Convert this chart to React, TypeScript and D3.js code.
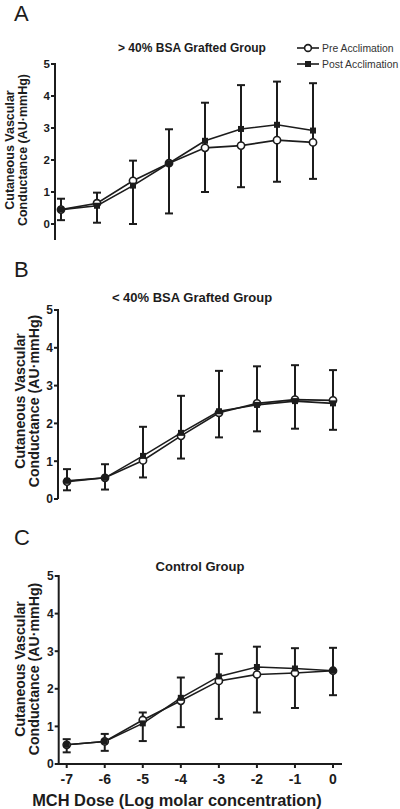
import React from "react";
import * as d3 from "d3";

// ---- data ----
const doses = [-7, -6, -5, -4, -3, -2, -1, 0];
const yTicks = [0, 1, 2, 3, 4, 5];
const seriesNames = ["Pre Acclimation", "Post Acclimation"];

const panelLetters = ["A", "B", "C"];
const panelTitles = ["> 40% BSA Grafted Group", "< 40% BSA Grafted Group", "Control Group"];

// Panel A (> 40% BSA)
const aPre = [0.45, 0.65, 1.35, 1.9, 2.38, 2.45, 2.62, 2.55];
const aPost = [0.45, 0.57, 1.2, 1.9, 2.6, 2.97, 3.1, 2.92];
const aHigh = [0.79, 0.98, 1.98, 2.96, 3.79, 4.34, 4.45, 4.4];
const aLow = [0.12, 0.04, 0.0, 0.33, 1.0, 1.15, 1.32, 1.41];

// Panel B (< 40% BSA)
const bPre = [0.46, 0.56, 1.02, 1.67, 2.28, 2.53, 2.63, 2.61];
const bPost = [0.48, 0.56, 1.14, 1.75, 2.32, 2.49, 2.59, 2.53];
const bHigh = [0.79, 0.92, 1.91, 2.73, 3.39, 3.51, 3.54, 3.41];
const bLow = [0.23, 0.25, 0.57, 1.07, 1.63, 1.79, 1.86, 1.83];

// Panel C (Control)
const cPre = [0.51, 0.6, 1.17, 1.68, 2.21, 2.38, 2.42, 2.48];
const cPost = [0.51, 0.6, 1.08, 1.76, 2.33, 2.58, 2.54, 2.48];
const cHigh = [0.66, 0.8, 1.37, 2.3, 2.93, 3.12, 3.08, 3.09];
const cLow = [0.31, 0.35, 0.61, 0.98, 1.2, 1.37, 1.49, 1.83];

const yTitle1 = "Cutaneous Vascular";
const yTitle2 = "Conductance (AU\u00B7mmHg)";
const xTitle = "MCH Dose (Log molar concentration)";

// ---- layout ----
const FONT = "'Liberation Sans', Arial, Helvetica, sans-serif";
const INK = "#1c1c1c";

const layouts = [
  { x0: 61, x1: 313, yTop: 64, yBot: 224, axisX: 55, axisEnd: 240, titleX: 192, titleY: 52, titleSize: 12,
    yt1X: 14, yt2X: 27, ytY: 150, ytSize: 12.5, letterY: 21, tickSize: 11.5, xAxis: false, legend: true },
  { x0: 67, x1: 333, yTop: 310, yBot: 499, axisX: 58, axisEnd: 499, titleX: 192, titleY: 302, titleSize: 13,
    yt1X: 25, yt2X: 39, ytY: 401, ytSize: 14.2, letterY: 277, tickSize: 12, xAxis: false, legend: false },
  { x0: 66.7, x1: 333, yTop: 576, yBot: 764, axisX: 58.7, axisEnd: 764, titleX: 200, titleY: 571, titleSize: 13,
    yt1X: 25, yt2X: 39, ytY: 669, ytSize: 14.2, letterY: 545, tickSize: 12, xAxis: true, legend: false },
];

const panelsData = [
  { pre: aPre, post: aPost, high: aHigh, low: aLow },
  { pre: bPre, post: bPost, high: bHigh, low: bLow },
  { pre: cPre, post: cPost, high: cHigh, low: cLow },
];

function Panel({ idx }: { idx: number }) {
  const L = layouts[idx];
  const D = panelsData[idx];
  const x = d3.scaleLinear().domain([-7, 0]).range([L.x0, L.x1]);
  const y = d3.scaleLinear().domain([0, 5]).range([L.yBot, L.yTop]);
  const line = d3
    .line<number>()
    .x((_, i) => x(doses[i]))
    .y((v) => y(v));
  const cap = 4;
  return (
    <g>
      <text x={14} y={L.letterY} fontSize={22} fontFamily={FONT} fill={INK}>
        {panelLetters[idx]}
      </text>
      <text x={L.titleX} y={L.titleY} fontSize={L.titleSize} fontWeight="bold" textAnchor="middle" fontFamily={FONT} fill={INK}>
        {panelTitles[idx]}
      </text>
      {/* y title */}
      <g transform={`translate(${L.yt1X},${L.ytY}) rotate(-90)`}>
        <text textAnchor="middle" fontSize={L.ytSize} fontWeight="bold" fontFamily={FONT} fill={INK}>
          {yTitle1}
        </text>
      </g>
      <g transform={`translate(${L.yt2X},${L.ytY}) rotate(-90)`}>
        <text textAnchor="middle" fontSize={L.ytSize} fontWeight="bold" fontFamily={FONT} fill={INK}>
          {yTitle2}
        </text>
      </g>
      {/* y axis */}
      <line x1={L.axisX} x2={L.axisX} y1={y(5) - 1} y2={L.axisEnd} stroke={INK} strokeWidth={2} />
      {yTicks.map((t) => (
        <g key={t}>
          <line x1={L.axisX - 4} x2={L.axisX} y1={y(t)} y2={y(t)} stroke={INK} strokeWidth={2} />
          <text x={L.axisX - 5} y={y(t) + L.tickSize * 0.36} textAnchor="end" fontSize={L.tickSize} fontWeight="bold" fontFamily={FONT} fill={INK}>
            {t}
          </text>
        </g>
      ))}
      {/* x axis */}
      {L.xAxis && (
        <g>
          <line x1={L.axisX - 1} x2={342} y1={L.yBot} y2={L.yBot} stroke={INK} strokeWidth={2} />
          {doses.map((d) => (
            <g key={d}>
              <line x1={x(d)} x2={x(d)} y1={L.yBot} y2={L.yBot + 4} stroke={INK} strokeWidth={2} />
              <text x={x(d)} y={L.yBot + 20} textAnchor="middle" fontSize={14} fontWeight="bold" fontFamily={FONT} fill={INK}>
                {d}
              </text>
            </g>
          ))}
          <text x={177} y={L.yBot + 42} textAnchor="middle" fontSize={16.4} fontWeight="bold" fontFamily={FONT} fill={INK}>
            {xTitle}
          </text>
        </g>
      )}
      {/* error bars */}
      {doses.map((d, i) => (
        <g key={"e" + d} stroke={INK} strokeWidth={2}>
          <line x1={x(d)} x2={x(d)} y1={y(D.high[i])} y2={y(D.low[i])} />
          <line x1={x(d) - cap} x2={x(d) + cap} y1={y(D.high[i])} y2={y(D.high[i])} />
          <line x1={x(d) - cap} x2={x(d) + cap} y1={y(D.low[i])} y2={y(D.low[i])} />
        </g>
      ))}
      {/* lines */}
      <path d={line(D.pre) || ""} fill="none" stroke={INK} strokeWidth={1.6} />
      <path d={line(D.post) || ""} fill="none" stroke={INK} strokeWidth={1.6} />
      {/* markers */}
      {D.pre.map((v, i) => (
        <circle key={"c" + i} cx={x(doses[i])} cy={y(v)} r={3.6} fill="#fff" stroke={INK} strokeWidth={1.6} />
      ))}
      {D.post.map((v, i) => (
        <rect key={"s" + i} x={x(doses[i]) - 3} y={y(v) - 3} width={6} height={6} fill={INK} />
      ))}
      {/* legend */}
      {L.legend && (
        <g>
          <line x1={297} x2={319} y1={48} y2={48} stroke={INK} strokeWidth={1.6} />
          <circle cx={308} cy={48} r={3.4} fill="#fff" stroke={INK} strokeWidth={1.6} />
          <text x={322} y={52} fontSize={10.4} fontFamily={FONT} fill="#333">
            {seriesNames[0]}
          </text>
          <line x1={297} x2={319} y1={64} y2={64} stroke={INK} strokeWidth={1.6} />
          <rect x={305} y={61} width={6} height={6} fill={INK} />
          <text x={322} y={68} fontSize={10.4} fontFamily={FONT} fill="#333">
            {seriesNames[1]}
          </text>
        </g>
      )}
    </g>
  );
}

export default function App() {
  return (
    <svg
      width={400}
      height={809}
      viewBox="0 0 400 809"
      style={{ position: "absolute", left: 0, top: 0, background: "#fff" }}
    >
      <rect x={0} y={0} width={400} height={809} fill="#fff" />
      <Panel idx={0} />
      <Panel idx={1} />
      <Panel idx={2} />
    </svg>
  );
}
